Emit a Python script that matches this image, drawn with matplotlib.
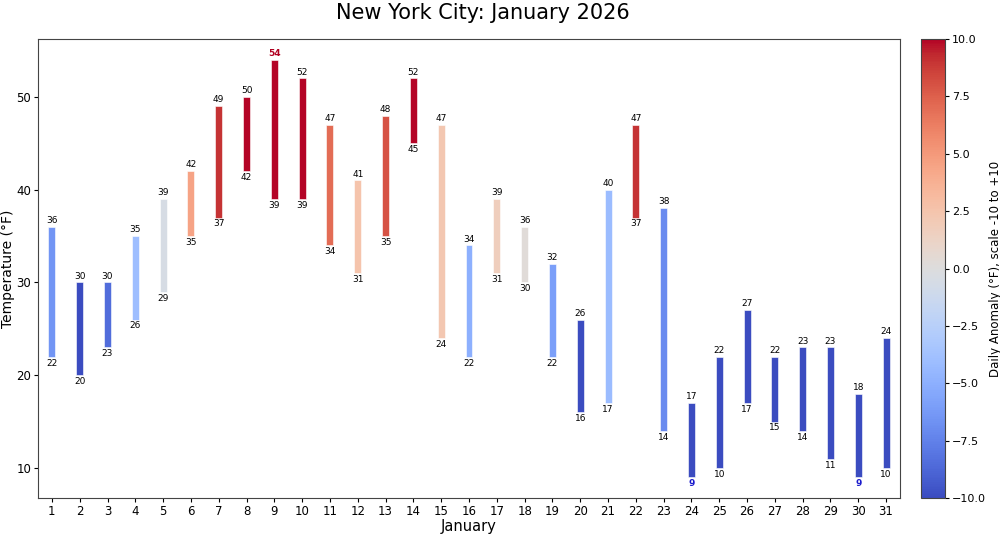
import matplotlib
matplotlib.use("Agg")
import matplotlib.pyplot as plt
from matplotlib.colors import Normalize
import numpy as np

# Daily data, January 2026 (NYC)
days = list(range(1, 32))
highs = [36, 30, 30, 35, 39, 42, 49, 50, 54, 52, 47, 41, 48, 52, 47, 34,
         39, 36, 32, 26, 40, 47, 38, 17, 22, 27, 22, 23, 23, 18, 24]
lows = [22, 20, 23, 26, 29, 35, 37, 42, 39, 39, 34, 31, 35, 45, 24, 22,
        31, 30, 22, 16, 17, 37, 14, 9, 10, 17, 15, 14, 11, 9, 10]
anomaly = [-6.5, -10, -8.5, -4, -0.5, 4.5, 9, 10, 10, 10, 7, 2.5, 8, 10, 2.3, -5,
           1.7, 0.3, -6, -10, -4.2, 9, -7, -10, -10, -10, -10, -10, -10, -10, -10]

cmap = plt.get_cmap("coolwarm")
norm = Normalize(vmin=-10, vmax=10)

fig = plt.figure(figsize=(10, 5.35), dpi=100)
ax = fig.add_axes([0.038, 0.069, 0.862, 0.858])
cax = fig.add_axes([0.921, 0.069, 0.024, 0.858])

heights = [h - l for h, l in zip(highs, lows)]
colors = [cmap(norm(a)) for a in anomaly]
ax.bar(days, heights, bottom=lows, width=0.25, color=colors,
       edgecolor="white", linewidth=0.4)

tmax = max(highs)
tmin = min(lows)
for d, h, l in zip(days, highs, lows):
    if h == tmax:
        ax.text(d, h + 0.2, str(h), ha="center", va="bottom", fontsize=6.5,
                color="#b00020", fontweight="bold")
    else:
        ax.text(d, h + 0.2, str(h), ha="center", va="bottom", fontsize=6.5)
    if l == tmin:
        ax.text(d, l - 0.2, str(l), ha="center", va="top", fontsize=6.5,
                color="#1a1acc", fontweight="bold")
    else:
        ax.text(d, l - 0.2, str(l), ha="center", va="top", fontsize=6.5)

ax.set_xlim(0.5, 31.5)
ax.set_ylim(6.75, 56.25)
ax.set_xticks(days)
ax.set_yticks([10, 20, 30, 40, 50])
ax.tick_params(labelsize=8.5, length=3, pad=2)
for s in ax.spines.values():
    s.set_color("#444444")
ax.set_xlabel("January", fontsize=10.5, labelpad=1)
ax.set_ylabel("Temperature (°F)", fontsize=10, labelpad=1)
fig.text(0.483, 0.975, "New York City: January 2026", fontsize=15,
         ha="center", va="center")

sm = plt.cm.ScalarMappable(cmap=cmap, norm=norm)
cb = fig.colorbar(sm, cax=cax)
cb.set_ticks(np.arange(-10, 10.1, 2.5))
cb.ax.tick_params(labelsize=8, length=3, pad=2)
cb.outline.set_edgecolor("#444444")
cb.set_label("Daily Anomaly (°F), scale -10 to +10", fontsize=8.5, labelpad=2)

fig.savefig("out.png", dpi=100)
